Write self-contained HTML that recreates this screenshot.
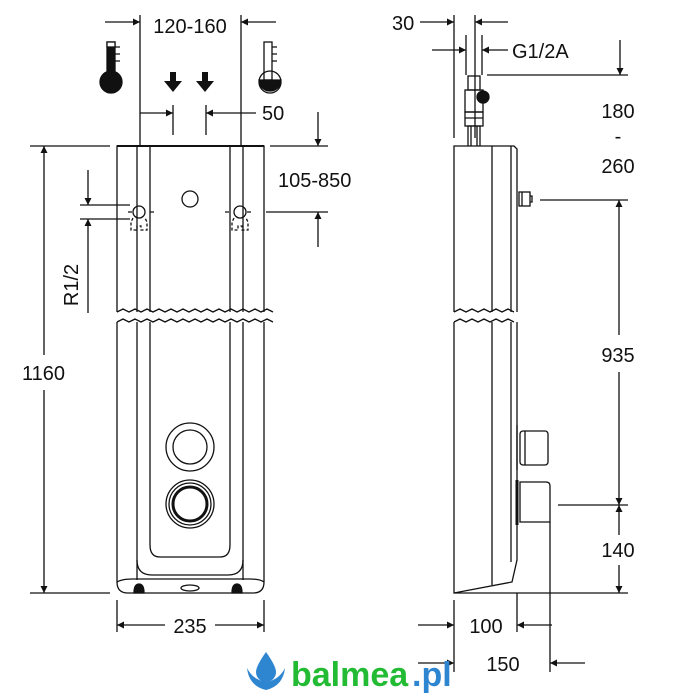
<!DOCTYPE html>
<html><head><meta charset="utf-8"><style>
html,body{margin:0;padding:0;background:#fff;width:700px;height:700px;overflow:hidden}
text{font-family:"Liberation Sans",sans-serif;fill:#111}
</style></head><body>
<svg width="700" height="700" viewBox="0 0 700 700" xmlns="http://www.w3.org/2000/svg">
<defs>
<marker id="a" viewBox="0 0 10 10" refX="10" refY="5" markerWidth="10" markerHeight="7" orient="auto-start-reverse" markerUnits="userSpaceOnUse"><path d="M0,0L10,5L0,10z" fill="#111"/></marker>
</defs>
<g stroke="#111" stroke-width="1.3" fill="none">
<path d="M117,312 V146 H264 V312"/>
<line x1="117" y1="146" x2="264" y2="146" stroke-width="2"/>
<path d="M137,146V312M150,146V312M230,146V312M243,146V312"/>
<path d="M117,312 l6,-3 6,3 6,-3 6,3 6,-3 6,3 6,-3 6,3 6,-3 6,3 6,-3 6,3 6,-3 6,3 6,-3 6,3 6,-3 6,3 6,-3 6,3 6,-3 6,3 6,-3 6,3 6,-3 6,3"/>
<path d="M117,322 l6,-3 6,3 6,-3 6,3 6,-3 6,3 6,-3 6,3 6,-3 6,3 6,-3 6,3 6,-3 6,3 6,-3 6,3 6,-3 6,3 6,-3 6,3 6,-3 6,3 6,-3 6,3 6,-3 6,3"/>
<circle cx="190" cy="199" r="8"/>
<circle cx="139" cy="212" r="6"/><circle cx="240" cy="212" r="6"/>
<path d="M132,212h-4M150,212h4M229,212h-4M247,212h4"/>
<path d="M133,218 l-2,4 v8 h6 v-4 h4 v4 h6 v-8 l-2,-4" stroke-dasharray="3,2"/>
<path d="M234,218 l-2,4 v8 h6 v-4 h4 v4 h6 v-8 l-2,-4" stroke-dasharray="3,2"/>
<path d="M117,322 V582 Q117,593 128,593 H253 Q264,593 264,582 V322"/>
<path d="M137,322V580M150,322V545M230,322V545M243,322V580"/>
<path d="M137,560 q0,15 15,15 h76 q15,0 15,-15"/>
<path d="M150,545 q0,12 10,12 h60 q10,0 10,-12"/>
<path d="M117,582 q5,-3 15,-3 h118 q10,0 14,3"/>
<circle cx="190" cy="447" r="24"/><circle cx="190" cy="447" r="17"/>
<circle cx="190" cy="504" r="24"/><circle cx="190" cy="504" r="17" stroke-width="3"/><circle cx="190" cy="504" r="21"/>
<ellipse cx="190" cy="588" rx="9" ry="3"/>
<path d="M134,593 q0,-9 5,-9 q5,0 5,9z M232,593 q0,-9 5,-9 q5,0 5,9z" fill="#111"/>
<path d="M140,146V15M241,146V15"/>
<line x1="105" y1="22" x2="140" y2="22" marker-end="url(#a)"/>
<line x1="276" y1="22" x2="241" y2="22" marker-end="url(#a)"/>
<path d="M173,105V135M206,105V135"/>
<line x1="140" y1="113" x2="173" y2="113" marker-end="url(#a)"/>
<line x1="256" y1="113" x2="206" y2="113" marker-end="url(#a)"/>
<path d="M30,146H110M30,593H110"/>
<line x1="44" y1="355" x2="44" y2="146" marker-end="url(#a)"/>
<line x1="44" y1="390" x2="44" y2="593" marker-end="url(#a)"/>
<path d="M80,205H130M80,219H130"/>
<line x1="88" y1="170" x2="88" y2="205" marker-end="url(#a)"/>
<line x1="88" y1="313" x2="88" y2="219" marker-end="url(#a)"/>
<path d="M270,146H328M266,212H328"/>
<line x1="318" y1="112" x2="318" y2="146" marker-end="url(#a)"/>
<line x1="318" y1="247" x2="318" y2="212" marker-end="url(#a)"/>
<path d="M117,600V632M264,600V632"/>
<line x1="165" y1="625" x2="117" y2="625" marker-end="url(#a)"/>
<line x1="215" y1="625" x2="264" y2="625" marker-end="url(#a)"/>
<rect x="107" y="42" width="8" height="38" fill="#111"/>
<rect x="107" y="42" width="8" height="5" fill="#fff"/>
<circle cx="111" cy="82" r="11" fill="#111"/>
<path d="M115,47h5M115,54h5M115,61h5"/>
<rect x="264" y="42" width="8" height="38" fill="#fff"/>
<path d="M259,80 a11,11 0 1,0 22,0 z" fill="#111"/>
<circle cx="270" cy="82" r="11"/>
<path d="M272,47h5M272,54h5M272,61h5"/>
<path d="M170,72h6v9h6l-9,11l-9,-11h6z M202,72h6v9h6l-9,11l-9,-11h6z" fill="#111" stroke="none"/>
<path d="M454,312V146H514l3,3V312M492,146V312M511,146V312"/>
<path d="M454,312 l6,-3 6,3 6,-3 6,3 6,-3 6,3 6,-3 6,3 6,-3 6,3"/>
<path d="M454,322 l6,-3 6,3 6,-3 6,3 6,-3 6,3 6,-3 6,3 6,-3 6,3"/>
<path d="M454,322V593 L512,582 L517,560 V322 M492,322V585 M511,322V562"/>
<rect x="519" y="192" width="11" height="14"/><path d="M522,192v14M530,196h2v6h-2"/>
<rect x="520" y="431" width="28" height="34" rx="3"/><path d="M525,431v34M517,425v45"/>
<path d="M520,482h26q4,0 4,4v36h-30z"/><path d="M517,480v45" stroke-width="3"/>
<path d="M468,146v-20h12v20"/>
<rect x="465" y="112" width="18" height="14"/>
<rect x="465" y="90" width="18" height="22"/>
<rect x="468" y="76" width="12" height="14"/>
<circle cx="483" cy="97" r="6" fill="#111"/>
<path d="M465,118h18M471,126v20M477,126v20"/>
<path d="M454,138V15M475,138V15M466,35V75M482,35V75"/>
<line x1="420" y1="22" x2="454" y2="22" marker-end="url(#a)"/>
<line x1="508" y1="22" x2="475" y2="22" marker-end="url(#a)"/>
<line x1="432" y1="50" x2="466" y2="50" marker-end="url(#a)"/>
<line x1="508" y1="50" x2="482" y2="50" marker-end="url(#a)"/>
<path d="M487,75H628M540,200H628M558,505H628M454,593H628"/>
<line x1="620" y1="40" x2="620" y2="75" marker-end="url(#a)"/>
<line x1="619" y1="335" x2="619" y2="200" marker-end="url(#a)"/>
<line x1="619" y1="372" x2="619" y2="505" marker-end="url(#a)"/>
<line x1="619" y1="535" x2="619" y2="505" marker-end="url(#a)"/>
<line x1="619" y1="565" x2="619" y2="593" marker-end="url(#a)"/>
<path d="M454,600V672M517,593V632M550,522V672"/>
<line x1="418" y1="625" x2="454" y2="625" marker-end="url(#a)"/>
<line x1="552" y1="625" x2="517" y2="625" marker-end="url(#a)"/>
<line x1="418" y1="663" x2="454" y2="663" marker-end="url(#a)"/>
<line x1="585" y1="663" x2="550" y2="663" marker-end="url(#a)"/>
</g>
<g font-size="20">
<text x="190" y="33" text-anchor="middle">120-160</text>
<text x="262" y="120">50</text>
<text x="278" y="187">105-850</text>
<text x="22" y="380">1160</text>
<text transform="translate(78,285) rotate(-90)" text-anchor="middle">R1/2</text>
<text x="190" y="633" text-anchor="middle">235</text>
<text x="392" y="30">30</text>
<text x="512" y="58">G1/2A</text>
<text x="618" y="118" text-anchor="middle">180</text>
<text x="618" y="143" text-anchor="middle">-</text>
<text x="618" y="173" text-anchor="middle">260</text>
<text x="618" y="362" text-anchor="middle">935</text>
<text x="618" y="557" text-anchor="middle">140</text>
<text x="486" y="633" text-anchor="middle">100</text>
<text x="503" y="671" text-anchor="middle">150</text>
</g>
<g>
<path d="M266,652 q-10,14 -10,20 a10,10 0 0,0 20,0 q0,-6 -10,-20z" fill="#2f86d0"/>
<path d="M247,668 q2,18 19,22 q17,-4 19,-22 q-6,12 -19,14 q-13,-2 -19,-14z" fill="#2f86d0"/>
<text x="291" y="686" font-size="34" font-weight="bold" style="fill:#22bb33">balmea</text>
<text x="412" y="686" font-size="34" font-weight="bold" style="fill:#2f86d0">.pl</text>
</g>
</svg>
</body></html>
